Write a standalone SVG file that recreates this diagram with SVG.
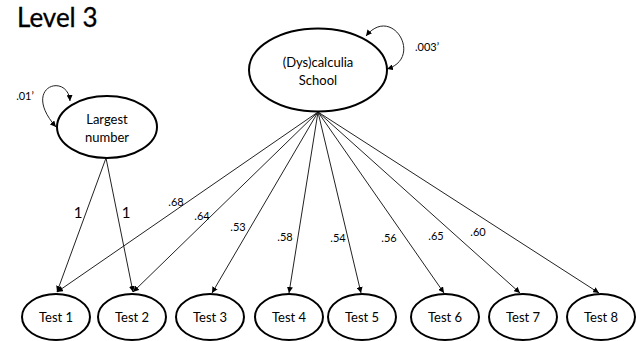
<svg xmlns="http://www.w3.org/2000/svg" width="636" height="341" viewBox="0 0 636 341">
<defs>
<marker id="ah" viewBox="0 0 10 10" refX="10" refY="5" markerWidth="6" markerHeight="6" orient="auto-start-reverse" markerUnits="userSpaceOnUse">
<path d="M0,0 L10,5 L0,10 z" fill="#000"/>
</marker>
<style>
.node ellipse{fill:#fff;stroke:#000;stroke-width:2}
.t{font-family:Lato,"Open Sans","Liberation Sans",sans-serif;fill:#000;text-anchor:middle}
.nt{font-size:13px}
.lab{font-size:11px}
.edge{stroke:#222;stroke-width:1;fill:none;marker-end:url(#ah)}
.loop{stroke:#222;stroke-width:1;fill:none;marker-start:url(#ah);marker-end:url(#ah)}
</style>
</defs>
<rect width="636" height="341" fill="#fff"/>
<text x="17" y="27" style="font-family:Lato,'Open Sans','Liberation Sans',sans-serif;font-size:26px;stroke:#000;stroke-width:0.3">Level 3</text>
<g id="connectors">
<path class="edge" d="M106,158 L57,292"/>
<path class="edge" d="M106,158 L133,292"/>
<path class="edge" d="M318,112 L57,292"/>
<path class="edge" d="M318,112 L133,292"/>
<path class="edge" d="M318,112 L212,293"/>
<path class="edge" d="M318,112 L289,293"/>
<path class="edge" d="M318,112 L361,293"/>
<path class="edge" d="M318,112 L444,293"/>
<path class="edge" d="M318,112 L520,293"/>
<path class="edge" d="M318,112 L599,293"/>
<path class="loop" d="M70,101 C68,72 20,86 56,127"/>
<path class="loop" d="M366,36 C392,4 424,58 387,69"/>
<text class="t lab" x="25" y="100">.01’</text>
<text class="t lab" x="427" y="51">.003’</text>
<text class="t" style="font-size:15px" x="78" y="218">1</text>
<text class="t" style="font-size:15px" x="126" y="218">1</text>
<text class="t lab" x="176" y="206">.68</text>
<text class="t lab" x="202" y="220">.64</text>
<text class="t lab" x="238" y="231">.53</text>
<text class="t lab" x="285" y="241">.58</text>
<text class="t lab" x="338" y="242">.54</text>
<text class="t lab" x="389" y="242">.56</text>
<text class="t lab" x="436" y="240">.65</text>
<text class="t lab" x="478" y="236">.60</text>
</g>
<g id="largest" class="node"><ellipse cx="107" cy="127" rx="50" ry="31"/><text class="t nt" x="107" y="124">Largest</text><text class="t nt" x="107" y="142">number</text></g>
<g id="school" class="node"><ellipse cx="318" cy="70" rx="69" ry="41.5"/><text class="t nt" x="318" y="67">(Dys)calculia</text><text class="t nt" x="318" y="85">School</text></g>
<g id="test1" class="node"><ellipse cx="56" cy="317" rx="34" ry="23"/><text class="t nt" x="56" y="322">Test 1</text></g>
<g id="test2" class="node"><ellipse cx="132" cy="317" rx="34" ry="23"/><text class="t nt" x="132" y="322">Test 2</text></g>
<g id="test3" class="node"><ellipse cx="210" cy="317" rx="34" ry="23"/><text class="t nt" x="210" y="322">Test 3</text></g>
<g id="test4" class="node"><ellipse cx="289" cy="317" rx="34" ry="23"/><text class="t nt" x="289" y="322">Test 4</text></g>
<g id="test5" class="node"><ellipse cx="362" cy="317" rx="34" ry="23"/><text class="t nt" x="362" y="322">Test 5</text></g>
<g id="test6" class="node"><ellipse cx="445" cy="317" rx="34" ry="23"/><text class="t nt" x="445" y="322">Test 6</text></g>
<g id="test7" class="node"><ellipse cx="523" cy="317" rx="34" ry="23"/><text class="t nt" x="523" y="322">Test 7</text></g>
<g id="test8" class="node"><ellipse cx="601" cy="317" rx="34" ry="23"/><text class="t nt" x="601" y="322">Test 8</text></g>
</svg>
